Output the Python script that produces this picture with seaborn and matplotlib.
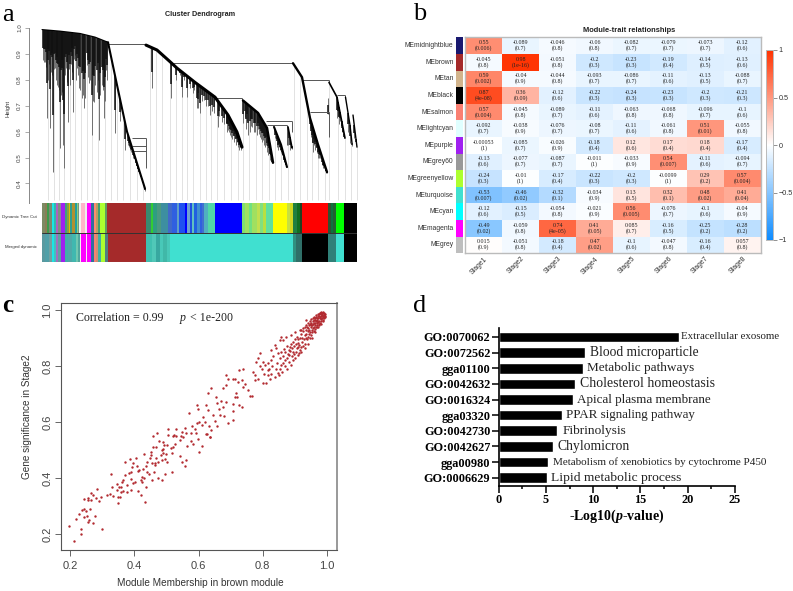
import numpy as np
import pandas as pd
import seaborn as sns
from matplotlib import pyplot as plt
from matplotlib.colors import LinearSegmentedColormap, ListedColormap

# ---- panel a: dendrogram, x is leaf position, y is height
branch_top_x = [42, 60, 80, 95, 108]
branch_top_h = [0.994, 0.988, 0.979, 0.965, 0.945]
branch_a_x = [108, 117, 127, 136, 145]
branch_a_h = [0.945, 0.78, 0.60, 0.49, 0.38]
branch_b_x = [146, 157, 170, 177, 195, 215, 228, 237, 242]
branch_b_h = [0.934, 0.915, 0.87, 0.845, 0.79, 0.733, 0.664, 0.598, 0.54]
branch_c_x = [243, 258, 267, 273]
branch_c_h = [0.72, 0.672, 0.614, 0.48]
branch_d_x = [274, 281, 287]
branch_d_h = [0.618, 0.55, 0.463]
branch_e_x = [288, 292]
branch_e_h = [0.618, 0.537]
branch_f_x = [293, 302, 310, 318, 327]
branch_f_h = [0.864, 0.81, 0.652, 0.55, 0.444]
branch_g_x = [329, 337, 345]
branch_g_h = [0.79, 0.733, 0.575]
branch_h_x = [345.5, 350, 352]
branch_h_h = [0.733, 0.625, 0.556]
branch_i_x = [353, 357]
branch_i_h = [0.664, 0.54]
branch_widths = [0.8, 1.5, 2.2, 1.8, 1.5, 1.2, 1.7, 1.2, 1.0, 1.0]

tooth_x = [43.3, 45, 46.7, 48.3, 50, 51.7, 53.3, 55, 56.7, 58.3, 60, 61.7, 63.3, 64.3, 66, 68.3, 70,
           71.7, 73.3, 75, 76.7, 79.3, 81.7, 84, 86.7, 89.3, 91.7, 94, 96.7, 99.3, 101.7, 104, 106,
           115, 120, 125, 128, 130, 132, 134, 136, 138, 140, 142, 144, 145,
           151.7, 170.7, 175.7, 181.7, 187.3, 193.3, 196.7, 197.7, 200, 204.3, 210, 217.7, 219, 221.7,
           224, 226.7, 229, 231, 233, 235, 237, 240, 241,
           243.3, 246, 248.3, 252.3, 254, 256.7, 259, 261, 263.3, 266, 269, 271, 272.3,
           276.7, 278, 281, 283, 284.3, 286, 288.3, 290, 291.7,
           310, 313.3, 315, 316.7, 319, 321.7, 323, 325.7, 328.3,
           336.7, 339, 341.7, 344.3, 348, 350, 352, 354.3, 356, 357,
           44, 46, 47.5, 49, 51, 52.5, 54, 56, 57.5, 59, 61, 62.5, 65, 67, 69, 71, 72.5, 74, 76, 78, 80,
           83, 85, 88, 90, 93, 95, 98, 100, 103, 105, 107,
           129, 131, 133, 135, 137, 139, 141, 143,
           180, 184, 190, 194, 198, 202, 206, 208, 212, 214, 227, 228, 230, 232, 234, 236, 238, 239,
           245, 247, 250, 251, 255, 258, 260, 262, 264, 265, 267, 268, 270,
           275, 277.5, 279, 280, 282, 285,
           311, 312, 314, 315.5, 317.5, 318, 320, 322, 324, 326, 327,
           338, 340, 342, 343, 345]
tooth_h = [0.876, 0.87, 0.651, 0.87, 0.613, 0.844, 0.445, 0.844, 0.819, 0.773, 0.535, 0.754, 0.548,
           0.458, 0.844, 0.638, 0.78, 0.883, 0.677, 0.896, 0.844, 0.767, 0.728, 0.69, 0.857, 0.786,
           0.587, 0.716, 0.754, 0.568, 0.78, 0.651, 0.838,
           0.593, 0.64, 0.529, 0.55, 0.53, 0.52, 0.50, 0.47, 0.45, 0.44, 0.42, 0.395, 0.372,
           0.767, 0.728, 0.799, 0.735, 0.735, 0.748, 0.69, 0.69, 0.67, 0.722, 0.664, 0.619, 0.66, 0.638,
           0.63, 0.606, 0.60, 0.58, 0.585, 0.574, 0.56, 0.542, 0.53,
           0.632, 0.61, 0.587, 0.619, 0.60, 0.587, 0.59, 0.57, 0.568, 0.55, 0.516, 0.50, 0.477,
           0.542, 0.53, 0.516, 0.50, 0.484, 0.465, 0.548, 0.53, 0.533,
           0.612, 0.522, 0.54, 0.516, 0.50, 0.484, 0.46, 0.439, 0.728,
           0.651, 0.63, 0.612, 0.574, 0.60, 0.555, 0.545, 0.574, 0.555, 0.542,
           0.87, 0.85, 0.80, 0.86, 0.83, 0.82, 0.84, 0.80, 0.78, 0.76, 0.74, 0.80, 0.82, 0.79, 0.84, 0.86,
           0.83, 0.88, 0.80, 0.82, 0.76, 0.74, 0.73, 0.81, 0.80, 0.72, 0.78, 0.80, 0.74, 0.76, 0.72, 0.80,
           0.54, 0.52, 0.50, 0.49, 0.46, 0.44, 0.42, 0.40,
           0.82, 0.80, 0.77, 0.76, 0.73, 0.72, 0.70, 0.70, 0.68, 0.67, 0.60, 0.605, 0.585, 0.57, 0.56,
           0.55, 0.54, 0.53,
           0.655, 0.64, 0.60, 0.62, 0.60, 0.61, 0.58, 0.56, 0.55, 0.54, 0.52, 0.51, 0.49,
           0.575, 0.56, 0.54, 0.53, 0.51, 0.475,
           0.58, 0.56, 0.55, 0.53, 0.53, 0.50, 0.50, 0.47, 0.46, 0.445, 0.44,
           0.66, 0.64, 0.60, 0.59, 0.575]
faint_x = [48, 54, 59, 64, 70, 75, 81, 87, 92, 98, 105, 111, 117, 123, 130, 137, 143, 150, 156, 162,
           170, 176, 182, 187, 193, 200, 206, 211, 217, 224, 231, 238, 243, 249, 256, 262, 269, 275,
           281, 288, 294, 300, 307, 312, 318, 325, 329, 338, 345, 351, 357]
# horizontal merges: height, from, to
link_h = [0.94, 0.864, 0.73, 0.64, 0.625, 0.80, 0.676, 0.74, 0.577, 0.546, 0.525]
link_from = [108, 170, 215, 266, 267, 302, 310, 337, 132, 132, 132]
link_to = [146, 293, 242, 292, 287, 329, 329, 345, 146, 146, 146]
# vertical connectors: position, from, to
drop_x = [146, 170, 215, 242, 293, 329, 329, 345, 292, 287, 145.7]
drop_top = [0.94, 0.864, 0.733, 0.73, 0.864, 0.80, 0.676, 0.74, 0.64, 0.625, 0.577]
drop_bottom = [0.934, 0.87, 0.73, 0.72, 0.86, 0.79, 0.58, 0.733, 0.60, 0.55, 0.458]

band1_colors = ['#7d8a63', '#8a7d55', '#3d9a4a', '#7a8a70', '#19e6e6', '#30b8b0', '#b060c0', '#7f8f7f',
                '#9080a0', '#a020f0', '#40a080', '#8aa040', '#e0c000', '#2e9e8e', '#b09030', '#20a0a0',
                '#8fd080', '#7a9a7a', '#f4f4f4', '#ffb6c8', '#eeeeee', '#ff00ff', '#2f6fa0', '#ff8a70',
                '#b8a060', '#40a070', '#adff2f', '#5f9f5f', '#a52a2a', '#3a8a70', '#32cd32', '#2e9e80',
                '#4a9a80', '#3d8fa0', '#4169c8', '#3060e0', '#60a0c8', '#2050f0', '#0000ff', '#70a0d0',
                '#2050e0', '#60c0c0', '#2060e0', '#4090d0', '#3060e0', '#4070d0', '#50b0c0', '#50d8a8',
                '#0000ff', '#80e070', '#a0e060', '#70e080', '#a0e060', '#c0e050', '#80e080', '#b8e040',
                '#60e0a0', '#ffff00', '#c8e040', '#d0d820', '#208040', '#107020', '#204020', '#ff0000',
                '#305030', '#107040', '#206030', '#00ff00', '#000000']
band1_ends = [45, 47, 49, 52, 54, 56, 58, 60, 61, 65, 67, 69, 70, 72, 75, 77, 78, 79, 81, 85, 87, 91, 94,
              96, 98, 100, 105, 107, 146, 151, 153, 157, 161, 168, 172, 177, 179, 185, 187, 190, 192,
              194, 197, 200, 202, 204, 208, 215, 242, 245, 249, 252, 257, 260, 263, 266, 273, 287, 290,
              293, 297, 300, 302, 328, 331, 333, 336, 344, 357]
band2_colors = ['#5a9aa0', '#50a0a8', '#70a0a0', '#19e6e6', '#40c0c0', '#a070c0', '#60a0a0', '#a020f0',
                '#40b0a8', '#50a8a8', '#40b8b0', '#70c8b0', '#50a8a0', '#f4f4f4', '#ff00ff', '#eeeeee',
                '#ff00ff', '#2f6fa0', '#fa8072', '#d09070', '#40b0a0', '#adff2f', '#508080', '#a52a2a',
                '#40c0b0', '#50c8b8', '#38a8a0', '#48c8b8', '#40b8a8', '#48c8b8', '#40e0d0', '#309080',
                '#2f6f68', '#000000', '#308078', '#40e0d0', '#000000']
band2_ends = [45, 49, 52, 54, 56, 58, 61, 65, 68, 72, 76, 78, 80, 81, 86, 87, 91, 94, 96, 98, 101, 105,
              108, 146, 152, 156, 160, 163, 167, 170, 293, 296, 302, 328, 336, 344, 357]

# ---- panel b
modules = ['MEmidnightblue', 'MEbrown', 'MEtan', 'MEblack', 'MEsalmon', 'MElightcyan', 'MEpurple',
           'MEgrey60', 'MEgreenyellow', 'MEturquoise', 'MEcyan', 'MEmagenta', 'MEgrey']
module_colors = ['#191970', '#a52a2a', '#d2b48c', '#000000', '#fa8072', '#e0ffff', '#a020f0', '#999999',
                 '#adff2f', '#40e0d0', '#00ffff', '#ff00ff', '#bebebe']
stages = ['Stage1', 'Stage2', 'Stage3', 'Stage4', 'Stage5', 'Stage6', 'Stage7', 'Stage8']
trait_r = [
    [0.55, -0.089, -0.046, -0.06, -0.082, -0.079, -0.073, -0.12],
    [-0.045, 0.98, -0.051, -0.2, -0.23, -0.19, -0.14, -0.13],
    [0.59, -0.04, -0.044, -0.093, -0.086, -0.11, -0.13, -0.088],
    [0.87, 0.36, -0.12, -0.22, -0.24, -0.23, -0.2, -0.21],
    [0.57, -0.045, -0.089, -0.11, -0.063, -0.068, -0.096, -0.1],
    [-0.092, -0.038, -0.076, -0.08, -0.11, -0.061, 0.51, -0.055],
    [-0.00053, -0.085, -0.026, -0.18, 0.12, 0.17, 0.18, -0.17],
    [-0.13, -0.077, -0.087, -0.011, -0.033, 0.54, -0.11, -0.094],
    [-0.24, -0.01, -0.17, -0.22, -0.2, -0.0099, 0.29, 0.57],
    [-0.53, -0.46, -0.32, -0.034, 0.13, 0.32, 0.48, 0.41],
    [-0.12, -0.15, -0.054, -0.021, 0.56, -0.076, -0.1, -0.04],
    [-0.49, -0.059, 0.74, 0.41, 0.085, -0.16, -0.25, -0.28],
    [0.015, -0.051, -0.18, 0.47, -0.1, -0.047, -0.16, 0.057],
]
trait_p = [
    ['0.006', '0.7', '0.8', '0.8', '0.7', '0.7', '0.7', '0.6'],
    ['0.8', '1e-16', '0.8', '0.3', '0.3', '0.4', '0.5', '0.6'],
    ['0.002', '0.9', '0.8', '0.7', '0.7', '0.6', '0.5', '0.7'],
    ['4e-08', '0.09', '0.6', '0.3', '0.3', '0.3', '0.3', '0.3'],
    ['0.004', '0.8', '0.7', '0.6', '0.8', '0.8', '0.7', '0.6'],
    ['0.7', '0.9', '0.7', '0.7', '0.6', '0.8', '0.01', '0.8'],
    ['1', '0.7', '0.9', '0.4', '0.6', '0.4', '0.4', '0.4'],
    ['0.6', '0.7', '0.7', '1', '0.9', '0.007', '0.6', '0.7'],
    ['0.3', '1', '0.4', '0.3', '0.3', '1', '0.2', '0.004'],
    ['0.007', '0.02', '0.1', '0.9', '0.5', '0.1', '0.02', '0.04'],
    ['0.6', '0.5', '0.8', '0.9', '0.005', '0.7', '0.6', '0.9'],
    ['0.02', '0.8', '4e-05', '0.05', '0.7', '0.5', '0.2', '0.2'],
    ['0.9', '0.8', '0.4', '0.02', '0.6', '0.8', '0.4', '0.8'],
]

# ---- panel c: module membership, gene significance
brown_genes = [
    (.197, .23), (.212, .175), (.218, .252), (.234, .217), (.234, .2), (.228, .27), (.236, .286), (.244, .288),
    (.25, .282), (.245, .26), (.254, .264), (.258, .25), (.255, .244), (.273, .238), (.279, .265), (.298, .218),
    (.262, .29), (.245, .324), (.257, .33), (.255, .321), (.264, .321), (.266, .348), (.273, .339), (.28, .327),
    (.285, .361), (.289, .319), (.295, .332), (.315, .34), (.324, .344), (.333, .336), (.327, .413), (.33, .367),
    (.345, .379), (.345, .356), (.349, .312), (.35, .333), (.355, .333), (.352, .367), (.359, .369), (.358, .351),
    (.364, .354), (.361, .387), (.364, .393), (.371, .457), (.378, .351), (.376, .375), (.372, .411), (.384, .417),
    (.387, .467), (.392, .438), (.395, .452), (.39, .423), (.39, .395), (.389, .357), (.395, .381), (.402, .387),
    (.404, .47), (.407, .444), (.412, .426), (.416, .429), (.42, .393), (.423, .387), (.42, .339), (.412, .354),
    (.435, .367), (.434, .313), (.431, .401), (.425, .405), (.426, .431), (.438, .443), (.44, .42), (.447, .415),
    (.44, .458), (.43, .485), (.451, .494), (.452, .482), (.449, .471), (.454, .452), (.454, .393), (.462, .42),
    (.474, .401), (.466, .446), (.466, .452), (.469, .47), (.475, .458), (.482, .482), (.485, .5), (.485, .464),
    (.495, .413), (.486, .393), (.518, .42), (.503, .456), (.495, .467), (.49, .49), (.498, .486), (.459, .51),
    (.469, .512), (.477, .533), (.49, .53), (.493, .518), (.49, .502), (.506, .554), (.503, .518), (.518, .488),
    (.513, .506), (.521, .512), (.527, .521), (.53, .55), (.521, .55), (.542, .479), (.547, .458), (.557, .443),
    (.561, .464), (.542, .536), (.552, .548), (.562, .56), (.565, .514), (.576, .533), (.583, .521), (.6, .494),
    (.61, .515), (.599, .538), (.593, .56), (.622, .557), (.635, .548), (.64, .571), (.458, .55), (.594, .661),
    (.57, .633), (.599, .645), (.47, .56), (.506, .574), (.523, .552), (.53, .574), (.545, .55), (.55, .565),
    (.558, .578), (.575, .56), (.58, .585), (.59, .575), (.595, .595), (.6, .6), (.61, .59),
    (.625, .557), (.635, .547), (.623, .66), (.63, .702), (.638, .72), (.653, .69), (.658, .669), (.671, .676),
    (.677, .654), (.664, .648), (.645, .625), (.63, .642), (.614, .619), (.62, .601), (.633, .585), (.656, .585),
    (.651, .604), (.668, .625), (.679, .621), (.692, .597), (.708, .607), (.708, .64), (.706, .666), (.687, .672),
    (.677, .72), (.687, .732), (.685, .767), (.692, .755), (.708, .755), (.713, .752), (.723, .744), (.734, .75),
    (.726, .785), (.739, .788), (.72, .69), (.713, .69), (.726, .66), (.734, .654), (.718, .702), (.739, .726),
    (.744, .734), (.754, .714), (.759, .694), (.765, .694), (.775, .75), (.77, .779), (.78, .815), (.791, .845),
    (.785, .827), (.801, .815), (.796, .791), (.806, .803), (.816, .785), (.816, .767), (.827, .773), (.822, .755),
    (.811, .738), (.801, .738), (.785, .755), (.775, .767), (.837, .762), (.851, .767), (.853, .791), (.827, .821),
    (.825, .857), (.837, .875), (.84, .863), (.853, .892), (.858, .904), (.863, .892), (.873, .904), (.889, .91),
    (.853, .827), (.863, .809), (.868, .821), (.858, .803), (.876, .827), (.889, .803), (.882, .839), (.894, .851),
    (.884, .869), (.905, .863), (.915, .857), (.91, .881), (.894, .886), (.899, .922), (.915, .928), (.936, .964),
    (.83, .80), (.845, .81), (.848, .845), (.856, .85), (.862, .835), (.866, .862), (.87, .85), (.874, .873),
    (.878, .842), (.88, .858), (.885, .852), (.888, .878), (.89, .835), (.892, .866), (.896, .842), (.898, .872),
    (.9, .895), (.902, .85), (.904, .88), (.906, .905), (.908, .868), (.91, .895), (.912, .846), (.914, .875),
    (.916, .90), (.918, .868), (.92, .915), (.921, .885), (.923, .90), (.925, .87), (.926, .925), (.928, .895),
    (.93, .91), (.931, .88), (.933, .93), (.934, .90), (.936, .915), (.937, .94), (.939, .895), (.94, .925),
    (.941, .905), (.943, .945), (.944, .915), (.945, .93), (.946, .90), (.947, .95), (.948, .92), (.949, .938),
    (.95, .91), (.951, .955), (.952, .928), (.953, .945), (.954, .92), (.955, .96), (.956, .935), (.957, .95),
    (.958, .925), (.959, .965), (.96, .94), (.961, .955), (.962, .932), (.963, .97), (.964, .945), (.965, .96),
    (.966, .938), (.967, .975), (.968, .952), (.969, .965), (.97, .945), (.971, .98), (.972, .958), (.973, .97),
    (.974, .95), (.975, .985), (.976, .962), (.977, .975), (.978, .955), (.979, .988), (.98, .968), (.981, .98),
    (.982, .96), (.983, .99), (.984, .972), (.985, .982), (.986, .965), (.987, .992), (.988, .975), (.989, .985),
    (.99, .97), (.991, .99), (.992, .98), (.993, .975), (.994, .985), (.995, .978), (.977, .99), (.981, .993),
    (.972, .985), (.966, .983), (.96, .975), (.955, .972), (.95, .968), (.946, .96), (.94, .955), (.935, .945),
    (.93, .94), (.925, .935), (.92, .93), (.968, .94), (.975, .945), (.982, .95), (.988, .96),
    (.79, .80), (.805, .77), (.815, .81), (.82, .79), (.832, .835), (.842, .79), (.848, .775), (.86, .78),
    (.87, .80), (.875, .79), (.882, .815), (.895, .82), (.9, .83), (.908, .84), (.92, .85), (.93, .865),
    (.94, .88), (.952, .90), (.962, .92), (.972, .94), (.958, .955), (.97, .96), (.978, .972), (.986, .978),
    (.98, .985), (.974, .98), (.968, .97), (.99, .982), (.985, .99), (.962, .965), (.95, .945), (.942, .935),
]

# ---- panel d
go_terms = ['GO:0070062', 'GO:0072562', 'gga01100', 'GO:0042632', 'GO:0016324', 'gga03320', 'GO:0042730',
            'GO:0042627', 'gga00980', 'GO:0006629']
go_values = [19.04, 9.13, 8.96, 8.11, 7.83, 6.70, 6.17, 5.75, 5.25, 5.11]
go_names = ['Extracellular exosome', 'Blood microparticle', 'Metabolic pathways', 'Cholesterol homeostasis',
            'Apical plasma membrane', 'PPAR signaling pathway', 'Fibrinolysis', 'Chylomicron',
            'Metabolism of xenobiotics by cytochrome P450', 'Lipid metabolic process']
name_sizes = [7.8, 9.75, 9.5, 9.9, 9.45, 9.4, 9.6, 9.8, 8.0, 9.7]
name_gaps = [0.2, 0.53, 0.35, 0.5, 0.42, 0.42, 0.56, 0.5, 0.5, 0.39]

W, H = 793, 591
SERIF = 'Liberation Serif'
sns.set_theme(style='white')
plt.rcParams['font.family'] = ['Liberation Sans', 'DejaVu Sans']
plt.rcParams['mathtext.fontset'] = 'custom'
plt.rcParams['mathtext.it'] = 'Liberation Serif:italic'
plt.rcParams['mathtext.bfit'] = 'Liberation Serif:italic:bold'
plt.rcParams['mathtext.default'] = 'regular'

fig = plt.figure(figsize=(W / 100, H / 100), dpi=100)


def px_axes(left, top, right, bottom):
    return fig.add_axes([left / W, 1 - bottom / H, (right - left) / W, (bottom - top) / H])


def px_text(x, y, s, **kw):
    fig.text(x / W, 1 - y / H, s, **kw)


def draw_dendrogram():
    ax = px_axes(29, 28, 358, 203)
    branches = [(branch_top_x, branch_top_h), (branch_a_x, branch_a_h), (branch_b_x, branch_b_h),
                (branch_c_x, branch_c_h), (branch_d_x, branch_d_h), (branch_e_x, branch_e_h),
                (branch_f_x, branch_f_h), (branch_g_x, branch_g_h), (branch_h_x, branch_h_h),
                (branch_i_x, branch_i_h)]
    canopy_x = [x for b in branches for x in b[0]]
    canopy_h = [h for b in branches for h in b[1]]
    ax.vlines(faint_x, 0.336, np.interp(faint_x, canopy_x, canopy_h), color='#e2e2e2', lw=0.7)
    tops = np.interp(tooth_x, canopy_x, canopy_h)
    bottoms = np.array(tooth_h)
    ax.vlines(tooth_x, bottoms, tops, color='#707070', lw=0.7)
    ax.vlines(tooth_x, tops - (tops - bottoms) * 0.6, tops, color='#101010', lw=1.1)
    ax.hlines(link_h, link_from, link_to, color='#555555', lw=0.7)
    ax.vlines(drop_x, drop_bottom, drop_top, color='#555555', lw=0.7)
    for (bx, bh), lw in zip(branches, branch_widths):
        sns.lineplot(x=bx, y=bh, sort=False, estimator=None, color='black', lw=lw, ax=ax, legend=False)
    ax.set_xlim(29, 358)
    ax.set_ylim(1 - 175 / 259, 1.0)
    sns.despine(ax=ax, bottom=True)
    ax.spines['left'].set_color('#888888')
    ax.spines['left'].set_linewidth(0.7)
    ax.set_xticks([])
    ax.set_yticks([0.4, 0.5, 0.6, 0.7, 0.8, 0.9, 1.0])
    ax.set_yticklabels(['0.4', '0.5', '0.6', '0.7', '0.8', '0.9', '1.0'], rotation=90, va='center',
                       fontsize=4.5, color='#444444')
    ax.tick_params(axis='y', left=True, length=3, width=0.5, color='#888888', pad=2)
    px_text(8, 108, 'Height', rotation=90, fontsize=4.2, color='#333333', ha='center', va='center')
    px_text(200, 14, 'Cluster Dendrogram', fontsize=5.2, fontweight='bold', color='#222222',
            ha='center', va='center')

    bands = px_axes(42, 203, 357, 262)
    palette = list(dict.fromkeys(band1_colors + band2_colors))
    rows = []
    for colors, ends in ((band1_colors, band1_ends), (band2_colors, band2_ends)):
        codes = [palette.index(c) for c in colors]
        rows.append(np.repeat(codes, np.diff([42] + ends)))
    sns.heatmap(np.array(rows), cmap=ListedColormap(palette), vmin=-0.5, vmax=len(palette) - 0.5, cbar=False,
                xticklabels=False, yticklabels=False, ax=bands)
    bands.axhline(1, color='#333333', lw=0.7)
    bands.axhline(2, color='#777777', lw=0.8)
    px_text(37, 217, 'Dynamic Tree Cut', fontsize=3.2, color='#333333', ha='right', va='center')
    px_text(37, 247, 'Merged dynamic', fontsize=3.2, color='#333333', ha='right', va='center')


def draw_heatmap():
    ax = px_axes(465.3, 37.3, 760.7, 253.3)
    cax = px_axes(766, 50, 773, 240)
    frame = pd.DataFrame(trait_r, index=modules, columns=stages)
    labels = [[f'{r:g}\n({p})' for r, p in zip(rr, pp)] for rr, pp in zip(trait_r, trait_p)]
    cmap = LinearSegmentedColormap.from_list('bwr_wgcna', ['#0f8cff', '#ffffff', '#ff3200'])
    sns.heatmap(frame, vmin=-1, vmax=1, cmap=cmap, annot=np.array(labels), fmt='',
                annot_kws={'fontsize': 4.3, 'family': SERIF, 'color': '#222222', 'linespacing': 1.05},
                ax=ax, cbar_ax=cax)
    for spine in ax.spines.values():
        spine.set_visible(True)
        spine.set_color('#bbbbbb')
        spine.set_linewidth(1)
    ax.set_yticklabels(modules, fontsize=4.9, color='#333333', rotation=0)
    ax.set_xticklabels(stages, fontsize=4.9, color='#333333', rotation=45, ha='right', rotation_mode='anchor')
    ax.tick_params(axis='y', left=False, length=0, pad=8.5)
    ax.tick_params(axis='x', bottom=False, length=0, pad=1.5)
    px_text(629, 30.5, 'Module-trait relationships', fontsize=5.4, fontweight='bold', color='#222222',
            ha='center', va='center')

    side = px_axes(456, 37.3, 462.7, 253.3)
    sns.heatmap(np.arange(len(modules)).reshape(-1, 1), cmap=ListedColormap(module_colors), cbar=False,
                xticklabels=False, yticklabels=False, ax=side)

    cax.set_yticks([-1, -0.5, 0, 0.5, 1])
    cax.set_yticklabels(['−1', '−0.5', '0', '0.5', '1'], fontsize=5.2, color='#333333')
    cax.tick_params(axis='y', right=True, length=3, width=0.5, color='#666666', pad=1)
    for spine in cax.spines.values():
        spine.set_visible(True)
        spine.set_color('#bbbbbb')
        spine.set_linewidth(0.6)


def draw_scatter():
    ax = px_axes(60.7, 302.7, 336.7, 550)
    genes = pd.DataFrame(brown_genes, columns=['membership', 'significance'])
    sns.scatterplot(data=genes, x='membership', y='significance', color='#b22a30', s=3, linewidth=0,
                    ax=ax, legend=False)
    ax.set_xlim(0.171, 1.030)
    ax.set_ylim(0.143, 1.026)
    ax.set_xticks([0.2, 0.4, 0.6, 0.8, 1.0])
    ax.set_yticks([0.2, 0.4, 0.6, 0.8, 1.0])
    ax.set_xticklabels(['0.2', '0.4', '0.6', '0.8', '1.0'], fontsize=8, color='#444444')
    ax.set_yticklabels(['0.2', '0.4', '0.6', '0.8', '1.0'], fontsize=8, color='#444444', rotation=90, va='center')
    ax.tick_params(axis='x', bottom=True, length=4, width=0.7, color='#666666', pad=4)
    ax.tick_params(axis='y', left=True, length=4, width=0.7, color='#666666', pad=2)
    ax.set_xlabel('')
    ax.set_ylabel('')
    for name in ('left', 'bottom', 'top'):
        ax.spines[name].set_color('#555555')
        ax.spines[name].set_linewidth(0.8)
    ax.spines['right'].set_color('#999999')
    ax.spines['right'].set_linewidth(1.4)
    px_text(200, 583, 'Module Membership in brown module', fontsize=7.2, color='#333333', ha='center', va='center')
    px_text(27, 417, 'Gene significance in Stage2', fontsize=7.2, color='#333333', rotation=90,
            ha='center', va='center')
    px_text(76, 318, 'Correlation = 0.99', family=SERIF, fontsize=8.6, color='#222222', va='center')
    px_text(180, 318, 'p', family=SERIF, style='italic', fontsize=8.6, color='#222222', va='center')
    px_text(190, 318, '< 1e-200', family=SERIF, fontsize=8.6, color='#222222', va='center')


def draw_bars():
    ax = px_axes(498.7, 328, 735, 485.7)
    terms = pd.DataFrame({'term': go_terms, 'value': go_values})
    sns.barplot(data=terms, x='value', y='term', color='black', saturation=1, width=0.68, ax=ax)
    ax.set_xlim(0, 25)
    ax.set_ylim(9.51, -0.574)
    ax.set_xticks([0, 5, 10, 15, 20, 25])
    ax.set_xticks([2.5, 7.5, 12.5, 17.5, 22.5], minor=True)
    ax.set_xlabel('')
    ax.set_ylabel('')
    ax.tick_params(axis='x', which='major', bottom=True, length=5, width=1.1, color='black', pad=1)
    ax.tick_params(axis='x', which='minor', bottom=True, length=2.5, width=1.1, color='black')
    ax.tick_params(axis='y', left=True, length=5, width=1.1, color='black', pad=1)
    for label in ax.get_xticklabels() + ax.get_yticklabels():
        label.set_family(SERIF)
        label.set_fontweight('bold')
        label.set_fontsize(8.8)
        label.set_color('black')
    sns.despine(ax=ax)
    ax.spines['left'].set_color('black')
    ax.spines['left'].set_linewidth(1.2)
    ax.spines['bottom'].set_color('black')
    ax.spines['bottom'].set_linewidth(1.2)
    for i, (value, name, size, gap) in enumerate(zip(go_values, go_names, name_sizes, name_gaps)):
        ax.text(value + gap, i, name, family=SERIF, fontsize=size, color='#222222', va='center', ha='left',
                clip_on=False)
    px_text(617, 516, r'-Log10($\mathbfit{p}$-value)', family=SERIF, fontweight='bold', fontsize=10,
            color='black', ha='center', va='center')


def main():
    draw_dendrogram()
    draw_heatmap()
    draw_scatter()
    draw_bars()
    px_text(2, 21, 'a', family=SERIF, fontsize=19, color='black')
    px_text(413, 20, 'b', family=SERIF, fontsize=19, color='black')
    px_text(2, 312, 'c', family=SERIF, fontsize=18, fontweight='bold', color='black')
    px_text(413, 312, 'd', family=SERIF, fontsize=19, color='black')
    plt.savefig('out.png', dpi=100)


if __name__ == '__main__':
    main()
